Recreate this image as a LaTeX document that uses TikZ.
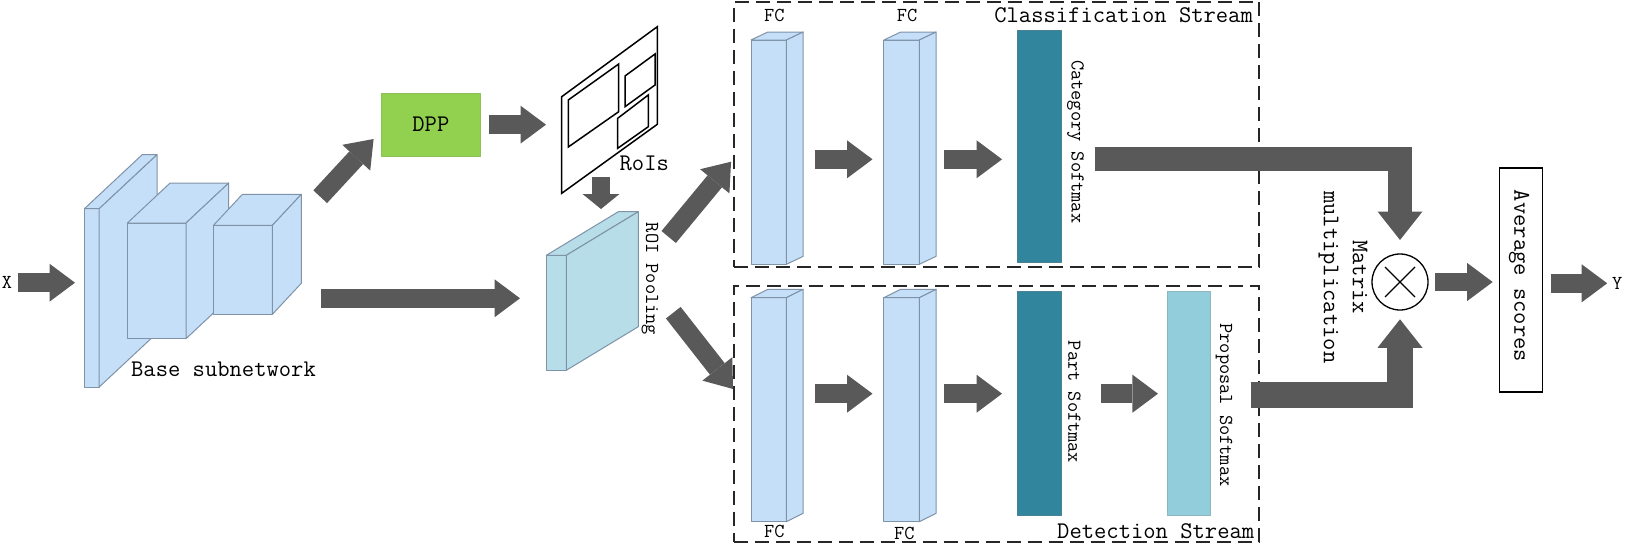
\documentclass[tikz,border=0pt]{standalone}
\usepackage{fontspec}
\usepackage{xcolor}
\usepackage{tikz}
\usetikzlibrary{arrows.meta}
\definecolor{flowgray}{HTML}{595959}
\definecolor{fcblue}{HTML}{C5DFF8}
\definecolor{fcedge}{HTML}{7F93A8}
\definecolor{roiblue}{HTML}{B6DDE8}
\definecolor{softdark}{HTML}{31859C}
\definecolor{softlight}{HTML}{92CDDC}
\definecolor{dppgreen}{HTML}{92D050}
\tikzset{
  face/.style  ={draw=fcedge, line width=1pt, inner sep=0pt, outer sep=0pt, line join=round},
  zone/.style  ={draw=black!85, line width=1.8pt, dash pattern=on 14pt off 7pt,
                 inner sep=0pt, outer sep=0pt},
  flow/.style  ={flowgray, line width=18.7pt,
                 -{Triangle[length=25.5pt, width=38pt, line width=0pt]}},
  flowbig/.style={flowgray, line width=#1,
                 -{Triangle[length=28.5pt, width=45pt, line width=0pt]}},
  lbl/.style   ={font=\ttfamily\fontsize{23.9}{29}\selectfont, align=center,
                 inner sep=0pt, outer sep=0pt},
  lblsm/.style ={font=\ttfamily\fontsize{19.8}{24}\selectfont, align=center,
                 inner sep=0pt, outer sep=0pt},
  frame/.style ={draw=black, line width=1.5pt, line join=miter},
}
% name, centre x, centre y, width, height, depth x, depth y, fill
\newcommand{\slab}[8]{%
  \node[face, fill=#8, minimum width=#4pt, minimum height=#5pt] (#1) at (#2,#3) {};
  \draw[face, fill=#8] (#1.north west) -- ++(#6,#7) -- ++(#4,0) -- (#1.north east) -- cycle;
  \draw[face, fill=#8] (#1.north east) -- ++(#6,#7) -- ++(0,#5) -- (#1.south east) -- cycle;
}
\begin{document}
\begin{tikzpicture}[x=1pt, y=-1pt]
  \useasboundingbox (0,0) rectangle (1625,546);
  \coordinate (rowc) at (0,159.3);
  \coordinate (rowd) at (0,393.7);
  \coordinate (rowm) at (0,298.3);

  \node[zone, minimum width=525.7pt, minimum height=265.6pt] (zonec) at (996.5,134.5) {};
  \node[zone, minimum width=525.7pt, minimum height=255.7pt] (zoned) at (996.5,413.85) {};

  % base subnetwork
  \slab{plate}{91.8}{297.85}{14.8}{178.3}{57.8}{-54}{fcblue}
  \slab{boxb}{156.7}{280.85}{58.6}{115.7}{42.7}{-40}{fcblue}
  \slab{boxc}{242.95}{269.8}{58.9}{89}{28.9}{-31}{fcblue}
  \node[lbl] (base) at (223.5,369.3) {Base subnetwork};

  \node[lblsm] (xin) at (6.9,282.7) {X};
  \draw[flow, shorten <=6pt, shorten >=9.4pt] (xin.east) -- (xin.east -| plate.west);

  \node[face, draw=dppgreen!80!gray, fill=dppgreen, minimum width=98.3pt,
        minimum height=63.3pt, lbl] (dpp) at (430.85,124.65) {DPP};

  % proposal sheet
  \coordinate (framea) at (561.7,96.7);
  \coordinate (frameb) at (561.7,193.3);
  \coordinate (roisout) at (601,176.7);
  \draw[frame] (framea) -- (657.3,26.7) -- (657.3,124.3) -- (frameb) -- cycle;
  \draw[frame] (568.3,100) -- (618.7,64) -- (618.7,111.7) -- (568.3,147) -- cycle;
  \draw[frame] (625,76) -- (655,54) -- (655,85) -- (625,106.7) -- cycle;
  \draw[frame] (617.7,118.3) -- (648.3,95) -- (648.3,126.7) -- (617.7,148.3) -- cycle;
  \node[lbl] (rois) at (644.3,163.3) {RoIs};

  \slab{roif}{556.3}{312.8}{20}{115}{72}{-43.6}{roiblue}
  \node[lblsm, rotate=-90] (pool) at (650,279) {ROI Pooling};

  \draw[flow] ([shift={(47.8,-28.6)}]boxc.north east) -- ([shift={(-8.1,14.35)}]dpp.west);
  \draw[flow, shorten <=48.5pt, shorten >=26.3pt] (boxc.east |- rowm) -- (roif.west |- rowm);
  \draw[flow, shorten <=8.7pt, shorten >=15.7pt] (dpp.east) -- (dpp.east -| framea);
  \draw[flow, -{Triangle[length=15pt, width=37pt, line width=0pt]}, shorten >=46.3pt]
    (roisout) -- (roisout |- roif.north);
  \draw[flow] ([shift={(102.4,-18.3)}]roif.north east) -- ([shift={(-2.6,27.2)}]zonec.west);
  \draw[flow] ([shift={(107,-0.1)}]roif.east) -- ([shift={(-0.6,-24.85)}]zoned.west);

  % classification stream
  \slab{fca}{768.7}{152.15}{35.4}{224.3}{16.8}{-8}{fcblue}
  \slab{fcb}{901.6}{152.15}{35.4}{224.3}{16.8}{-8}{fcblue}
  \node[face, draw=softdark!70!gray, fill=softdark, minimum width=43.5pt, minimum height=232pt] (cat) at (1039.3,146.3) {};
  \node[lblsm] (fcat) at (774.3,15.7) {FC};
  \node[lblsm] (fcbt) at (907.1,15.7) {FC};
  \node[lbl] (clsname) at (1123.6,15) {Classification Stream};
  \node[lblsm, rotate=-90] (catname) at (1075.4,141.7) {Category Softmax};

  % detection stream
  \slab{fcc}{768.7}{409.7}{35.4}{224}{16.8}{-8.4}{fcblue}
  \slab{fcd}{901.6}{409.7}{35.4}{224}{16.8}{-8.4}{fcblue}
  \node[face, draw=softdark!70!gray, fill=softdark, minimum width=43.5pt, minimum height=224.3pt] (part) at (1039.3,403.15) {};
  \node[face, draw=softlight!70!gray, fill=softlight, minimum width=42.9pt, minimum height=224pt] (prop) at (1189,403.7) {};
  \node[lblsm] (fccb) at (774.3,531.7) {FC};
  \node[lblsm] (fcdb) at (904.3,533.3) {FC};
  \node[lbl] (detname) at (1155.7,530.7) {Detection Stream};
  \node[lblsm, rotate=-90] (partname) at (1074.3,402) {Part Softmax};
  \node[lblsm, rotate=-90] (propname) at (1224,405) {Proposal Softmax};

  \draw[flow, shorten <=28.2pt, shorten >=11.4pt] (fca.east |- rowc) -- (fcb.west |- rowc);
  \draw[flow, shorten <=25pt, shorten >=15.5pt] (fcb.east |- rowc) -- (cat.west |- rowc);
  \draw[flow, shorten <=28.2pt, shorten >=11.4pt] (fcc.east |- rowd) -- (fcd.west |- rowd);
  \draw[flow, shorten <=25pt, shorten >=15.5pt] (fcd.east |- rowd) -- (part.west |- rowd);
  \draw[flow, shorten <=39.7pt, shorten >=9.6pt] (part.east |- rowd) -- (prop.west |- rowd);

  % merging the two streams
  \node[draw=black, line width=1.3pt, circle, minimum size=56pt, inner sep=0pt, outer sep=0pt] (mul) at (1400,282) {};
  \draw[black, line width=1.3pt] ([shift={(-15,-15)}]mul.center) -- ([shift={(15,15)}]mul.center);
  \draw[black, line width=1.3pt] ([shift={(-15,15)}]mul.center) -- ([shift={(15,-15)}]mul.center);
  \node[lbl, rotate=-90] (mulname) at (1343,277.3) {Matrix\\multiplication};
  \draw[flowbig=24.3pt, shorten <=33.6pt, shorten >=14pt] (cat.east |- rowc) -| (mul.north);
  \draw[flowbig=26pt, shorten <=40.3pt, shorten >=9.3pt] ([yshift=8.4pt]prop.east) -| (mul.south);

  \node[draw=black, line width=1.3pt, minimum width=43.4pt, minimum height=224pt, inner sep=0pt, outer sep=0pt] (avg) at (1521,280) {};
  \node[lbl, rotate=-90] (avgname) at (1519,276) {Average scores};
  \node[lblsm] (yout) at (1617.3,283.3) {Y};
  \draw[flow, shorten <=7.3pt, shorten >=6.6pt] (mul.east) -- (mul.east -| avg.west);
  \draw[flow, shorten <=8pt, shorten >=5pt] (yout.west -| avg.east) -- (yout.west);
\end{tikzpicture}
\end{document}
